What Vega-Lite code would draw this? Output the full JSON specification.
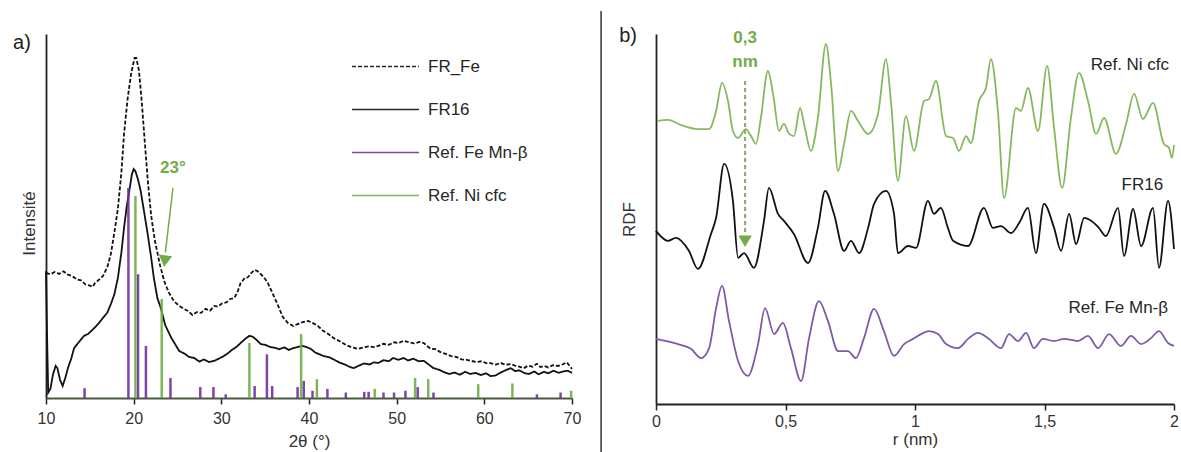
{
"$schema":"https://vega.github.io/schema/vega-lite/v6.json",
"background":"white",
"padding":{"left":13,"top":10,"right":0,"bottom":0},
"config":{"font":"Liberation Sans","view":{"stroke":null},"axis":{"grid":false}},
"spacing":84,
"bounds":"flush",
"datasets":{
"xrd":[
{"s":"FR_Fe","x":10.0,"y":34.4},{"s":"FR_Fe","x":10.5,"y":34.0},{"s":"FR_Fe","x":11.0,"y":34.6},{"s":"FR_Fe","x":11.5,"y":34.1},{"s":"FR_Fe","x":12.0,"y":34.8},{"s":"FR_Fe","x":12.5,"y":33.9},{"s":"FR_Fe","x":13.0,"y":33.5},{"s":"FR_Fe","x":13.5,"y":32.6},{"s":"FR_Fe","x":14.0,"y":32.3},{"s":"FR_Fe","x":14.5,"y":31.2},{"s":"FR_Fe","x":15.0,"y":30.9},{"s":"FR_Fe","x":15.3,"y":30.5},{"s":"FR_Fe","x":15.6,"y":31.6},{"s":"FR_Fe","x":16.0,"y":32.4},{"s":"FR_Fe","x":16.5,"y":33.5},{"s":"FR_Fe","x":17.0,"y":36.0},{"s":"FR_Fe","x":17.4,"y":39.6},{"s":"FR_Fe","x":17.8,"y":45.5},{"s":"FR_Fe","x":18.2,"y":52.0},{"s":"FR_Fe","x":18.6,"y":62.0},{"s":"FR_Fe","x":18.9,"y":72.5},{"s":"FR_Fe","x":19.3,"y":82.0},{"s":"FR_Fe","x":19.7,"y":89.0},{"s":"FR_Fe","x":20.1,"y":93.4},{"s":"FR_Fe","x":20.3,"y":93.4},{"s":"FR_Fe","x":20.6,"y":90.0},{"s":"FR_Fe","x":20.9,"y":82.0},{"s":"FR_Fe","x":21.2,"y":72.5},{"s":"FR_Fe","x":21.6,"y":60.0},{"s":"FR_Fe","x":22.0,"y":50.0},{"s":"FR_Fe","x":22.4,"y":43.5},{"s":"FR_Fe","x":22.7,"y":40.0},{"s":"FR_Fe","x":23.0,"y":36.5},{"s":"FR_Fe","x":23.5,"y":32.0},{"s":"FR_Fe","x":24.0,"y":29.0},{"s":"FR_Fe","x":24.6,"y":26.6},{"s":"FR_Fe","x":25.2,"y":25.3},{"s":"FR_Fe","x":25.8,"y":24.4},{"s":"FR_Fe","x":26.2,"y":23.9},{"s":"FR_Fe","x":26.7,"y":22.8},{"s":"FR_Fe","x":27.2,"y":23.6},{"s":"FR_Fe","x":27.7,"y":23.4},{"s":"FR_Fe","x":28.2,"y":24.5},{"s":"FR_Fe","x":28.7,"y":24.0},{"s":"FR_Fe","x":29.2,"y":25.3},{"s":"FR_Fe","x":29.6,"y":25.1},{"s":"FR_Fe","x":30.1,"y":26.0},{"s":"FR_Fe","x":30.6,"y":26.3},{"s":"FR_Fe","x":31.0,"y":27.2},{"s":"FR_Fe","x":31.5,"y":27.5},{"s":"FR_Fe","x":31.9,"y":29.5},{"s":"FR_Fe","x":32.2,"y":31.6},{"s":"FR_Fe","x":32.7,"y":33.0},{"s":"FR_Fe","x":33.0,"y":33.1},{"s":"FR_Fe","x":33.4,"y":34.3},{"s":"FR_Fe","x":33.8,"y":35.2},{"s":"FR_Fe","x":34.1,"y":34.9},{"s":"FR_Fe","x":34.6,"y":33.8},{"s":"FR_Fe","x":35.0,"y":32.7},{"s":"FR_Fe","x":35.3,"y":31.6},{"s":"FR_Fe","x":35.8,"y":29.0},{"s":"FR_Fe","x":36.4,"y":25.8},{"s":"FR_Fe","x":37.0,"y":22.3},{"s":"FR_Fe","x":37.6,"y":20.6},{"s":"FR_Fe","x":38.2,"y":19.8},{"s":"FR_Fe","x":38.7,"y":20.3},{"s":"FR_Fe","x":39.2,"y":20.8},{"s":"FR_Fe","x":39.9,"y":21.2},{"s":"FR_Fe","x":40.5,"y":20.5},{"s":"FR_Fe","x":41.0,"y":19.8},{"s":"FR_Fe","x":41.6,"y":18.5},{"s":"FR_Fe","x":42.2,"y":17.6},{"s":"FR_Fe","x":42.8,"y":16.5},{"s":"FR_Fe","x":43.5,"y":15.6},{"s":"FR_Fe","x":44.2,"y":14.6},{"s":"FR_Fe","x":44.9,"y":13.9},{"s":"FR_Fe","x":45.6,"y":13.5},{"s":"FR_Fe","x":46.2,"y":13.9},{"s":"FR_Fe","x":46.8,"y":14.2},{"s":"FR_Fe","x":47.4,"y":14.0},{"s":"FR_Fe","x":47.9,"y":14.3},{"s":"FR_Fe","x":48.5,"y":14.9},{"s":"FR_Fe","x":49.1,"y":14.6},{"s":"FR_Fe","x":49.7,"y":15.3},{"s":"FR_Fe","x":50.2,"y":15.1},{"s":"FR_Fe","x":50.8,"y":15.7},{"s":"FR_Fe","x":51.4,"y":15.3},{"s":"FR_Fe","x":52.0,"y":15.0},{"s":"FR_Fe","x":52.6,"y":15.4},{"s":"FR_Fe","x":53.1,"y":15.1},{"s":"FR_Fe","x":53.5,"y":14.2},{"s":"FR_Fe","x":53.9,"y":13.5},{"s":"FR_Fe","x":54.4,"y":13.4},{"s":"FR_Fe","x":55.0,"y":12.6},{"s":"FR_Fe","x":55.6,"y":12.1},{"s":"FR_Fe","x":56.2,"y":11.5},{"s":"FR_Fe","x":56.8,"y":11.3},{"s":"FR_Fe","x":57.4,"y":10.6},{"s":"FR_Fe","x":58.0,"y":10.5},{"s":"FR_Fe","x":58.5,"y":10.2},{"s":"FR_Fe","x":59.1,"y":9.9},{"s":"FR_Fe","x":59.7,"y":10.1},{"s":"FR_Fe","x":60.2,"y":9.6},{"s":"FR_Fe","x":60.7,"y":9.6},{"s":"FR_Fe","x":61.3,"y":9.2},{"s":"FR_Fe","x":61.9,"y":9.6},{"s":"FR_Fe","x":62.4,"y":9.1},{"s":"FR_Fe","x":63.0,"y":9.3},{"s":"FR_Fe","x":63.5,"y":8.9},{"s":"FR_Fe","x":64.0,"y":8.6},{"s":"FR_Fe","x":64.5,"y":8.2},{"s":"FR_Fe","x":65.0,"y":8.9},{"s":"FR_Fe","x":65.5,"y":8.6},{"s":"FR_Fe","x":66.0,"y":9.4},{"s":"FR_Fe","x":66.4,"y":8.5},{"s":"FR_Fe","x":66.8,"y":8.8},{"s":"FR_Fe","x":67.3,"y":8.4},{"s":"FR_Fe","x":67.8,"y":9.0},{"s":"FR_Fe","x":68.4,"y":8.8},{"s":"FR_Fe","x":68.9,"y":9.2},{"s":"FR_Fe","x":69.4,"y":9.8},{"s":"FR_Fe","x":70.0,"y":8.0},
{"s":"FR16","x":10.0,"y":34.9},{"s":"FR16","x":10.1,"y":20.0},{"s":"FR16","x":10.25,"y":1.5},{"s":"FR16","x":10.5,"y":2.5},{"s":"FR16","x":10.8,"y":6.5},{"s":"FR16","x":11.1,"y":8.8},{"s":"FR16","x":11.3,"y":8.2},{"s":"FR16","x":11.6,"y":5.0},{"s":"FR16","x":11.9,"y":3.3},{"s":"FR16","x":12.2,"y":5.5},{"s":"FR16","x":12.5,"y":8.2},{"s":"FR16","x":12.9,"y":11.0},{"s":"FR16","x":13.2,"y":13.7},{"s":"FR16","x":13.7,"y":15.2},{"s":"FR16","x":14.3,"y":17.0},{"s":"FR16","x":14.8,"y":17.6},{"s":"FR16","x":15.5,"y":19.2},{"s":"FR16","x":16.0,"y":20.5},{"s":"FR16","x":16.5,"y":22.0},{"s":"FR16","x":17.0,"y":23.5},{"s":"FR16","x":17.4,"y":25.8},{"s":"FR16","x":17.8,"y":28.5},{"s":"FR16","x":18.2,"y":33.0},{"s":"FR16","x":18.6,"y":40.0},{"s":"FR16","x":18.9,"y":46.7},{"s":"FR16","x":19.2,"y":52.5},{"s":"FR16","x":19.5,"y":56.9},{"s":"FR16","x":19.8,"y":61.5},{"s":"FR16","x":20.0,"y":62.9},{"s":"FR16","x":20.2,"y":62.3},{"s":"FR16","x":20.5,"y":60.0},{"s":"FR16","x":20.8,"y":56.9},{"s":"FR16","x":21.2,"y":51.0},{"s":"FR16","x":21.6,"y":45.0},{"s":"FR16","x":22.0,"y":38.5},{"s":"FR16","x":22.3,"y":33.0},{"s":"FR16","x":22.7,"y":27.5},{"s":"FR16","x":23.1,"y":24.7},{"s":"FR16","x":23.6,"y":20.0},{"s":"FR16","x":24.3,"y":16.5},{"s":"FR16","x":24.8,"y":14.5},{"s":"FR16","x":25.2,"y":12.9},{"s":"FR16","x":25.8,"y":12.2},{"s":"FR16","x":26.3,"y":11.3},{"s":"FR16","x":26.9,"y":11.0},{"s":"FR16","x":27.5,"y":10.0},{"s":"FR16","x":28.0,"y":10.6},{"s":"FR16","x":28.6,"y":9.9},{"s":"FR16","x":29.2,"y":10.2},{"s":"FR16","x":29.7,"y":10.8},{"s":"FR16","x":30.2,"y":11.4},{"s":"FR16","x":30.7,"y":12.2},{"s":"FR16","x":31.2,"y":13.2},{"s":"FR16","x":31.7,"y":14.0},{"s":"FR16","x":32.2,"y":15.1},{"s":"FR16","x":32.7,"y":16.2},{"s":"FR16","x":33.2,"y":17.1},{"s":"FR16","x":33.6,"y":16.8},{"s":"FR16","x":34.0,"y":16.0},{"s":"FR16","x":34.5,"y":14.8},{"s":"FR16","x":35.0,"y":14.6},{"s":"FR16","x":35.6,"y":14.0},{"s":"FR16","x":36.1,"y":13.8},{"s":"FR16","x":36.6,"y":13.4},{"s":"FR16","x":37.2,"y":13.9},{"s":"FR16","x":37.7,"y":13.2},{"s":"FR16","x":38.2,"y":13.7},{"s":"FR16","x":38.7,"y":14.0},{"s":"FR16","x":39.2,"y":14.3},{"s":"FR16","x":39.7,"y":14.0},{"s":"FR16","x":40.2,"y":13.5},{"s":"FR16","x":40.7,"y":12.5},{"s":"FR16","x":41.2,"y":12.0},{"s":"FR16","x":41.7,"y":11.5},{"s":"FR16","x":42.3,"y":11.2},{"s":"FR16","x":42.9,"y":10.5},{"s":"FR16","x":43.5,"y":9.7},{"s":"FR16","x":44.1,"y":9.2},{"s":"FR16","x":44.6,"y":8.6},{"s":"FR16","x":45.1,"y":8.2},{"s":"FR16","x":45.7,"y":8.9},{"s":"FR16","x":46.3,"y":9.5},{"s":"FR16","x":46.9,"y":9.2},{"s":"FR16","x":47.4,"y":9.8},{"s":"FR16","x":47.9,"y":9.6},{"s":"FR16","x":48.5,"y":10.4},{"s":"FR16","x":49.1,"y":10.1},{"s":"FR16","x":49.6,"y":11.0},{"s":"FR16","x":50.2,"y":10.5},{"s":"FR16","x":50.8,"y":11.0},{"s":"FR16","x":51.3,"y":10.3},{"s":"FR16","x":51.9,"y":10.8},{"s":"FR16","x":52.5,"y":10.1},{"s":"FR16","x":53.1,"y":10.2},{"s":"FR16","x":53.6,"y":9.3},{"s":"FR16","x":54.2,"y":8.2},{"s":"FR16","x":54.8,"y":7.8},{"s":"FR16","x":55.4,"y":7.1},{"s":"FR16","x":56.0,"y":6.6},{"s":"FR16","x":56.6,"y":7.0},{"s":"FR16","x":57.2,"y":6.4},{"s":"FR16","x":57.8,"y":7.2},{"s":"FR16","x":58.4,"y":6.6},{"s":"FR16","x":59.0,"y":6.9},{"s":"FR16","x":59.6,"y":6.3},{"s":"FR16","x":60.2,"y":6.8},{"s":"FR16","x":60.7,"y":6.0},{"s":"FR16","x":61.3,"y":6.2},{"s":"FR16","x":61.8,"y":6.9},{"s":"FR16","x":62.4,"y":7.6},{"s":"FR16","x":63.0,"y":8.2},{"s":"FR16","x":63.5,"y":7.4},{"s":"FR16","x":64.0,"y":7.6},{"s":"FR16","x":64.6,"y":6.8},{"s":"FR16","x":65.1,"y":6.6},{"s":"FR16","x":65.7,"y":7.3},{"s":"FR16","x":66.2,"y":6.5},{"s":"FR16","x":66.8,"y":7.2},{"s":"FR16","x":67.3,"y":6.8},{"s":"FR16","x":67.9,"y":7.5},{"s":"FR16","x":68.5,"y":6.9},{"s":"FR16","x":69.0,"y":7.3},{"s":"FR16","x":69.5,"y":7.5},{"s":"FR16","x":70.0,"y":6.9}
],
"sticks":[
{"s":"Ref. Fe Mn-β","x":14.4,"y":2.7},{"s":"Ref. Fe Mn-β","x":19.4,"y":57.7},{"s":"Ref. Fe Mn-β","x":20.5,"y":34.0},{"s":"Ref. Fe Mn-β","x":21.4,"y":14.3},{"s":"Ref. Fe Mn-β","x":24.2,"y":5.5},{"s":"Ref. Fe Mn-β","x":27.6,"y":3.0},{"s":"Ref. Fe Mn-β","x":29.1,"y":3.0},{"s":"Ref. Fe Mn-β","x":30.5,"y":1.0},{"s":"Ref. Fe Mn-β","x":33.8,"y":3.3},{"s":"Ref. Fe Mn-β","x":35.2,"y":12.0},{"s":"Ref. Fe Mn-β","x":35.8,"y":3.3},{"s":"Ref. Fe Mn-β","x":38.7,"y":3.0},{"s":"Ref. Fe Mn-β","x":39.4,"y":4.7},{"s":"Ref. Fe Mn-β","x":40.4,"y":2.0},{"s":"Ref. Fe Mn-β","x":42.1,"y":2.5},{"s":"Ref. Fe Mn-β","x":44.2,"y":1.5},{"s":"Ref. Fe Mn-β","x":46.3,"y":1.7},{"s":"Ref. Fe Mn-β","x":46.8,"y":1.7},{"s":"Ref. Fe Mn-β","x":48.5,"y":1.5},{"s":"Ref. Fe Mn-β","x":49.7,"y":1.5},{"s":"Ref. Fe Mn-β","x":51.0,"y":2.0},{"s":"Ref. Fe Mn-β","x":52.4,"y":3.0},{"s":"Ref. Fe Mn-β","x":54.2,"y":1.5},{"s":"Ref. Fe Mn-β","x":66.0,"y":1.0},{"s":"Ref. Fe Mn-β","x":68.7,"y":1.5},
{"s":"Ref. Ni cfc","x":20.2,"y":55.5},{"s":"Ref. Ni cfc","x":23.2,"y":27.2},{"s":"Ref. Ni cfc","x":33.2,"y":15.1},{"s":"Ref. Ni cfc","x":39.1,"y":17.6},{"s":"Ref. Ni cfc","x":40.9,"y":5.2},{"s":"Ref. Ni cfc","x":47.5,"y":2.5},{"s":"Ref. Ni cfc","x":52.1,"y":5.5},{"s":"Ref. Ni cfc","x":53.6,"y":5.2},{"s":"Ref. Ni cfc","x":59.3,"y":3.8},{"s":"Ref. Ni cfc","x":63.2,"y":4.0},{"s":"Ref. Ni cfc","x":69.9,"y":2.0}
],
"rdf":[
{"s":"Ni","x":0.004,"y":76.5},{"s":"Ni","x":0.046,"y":76.8},{"s":"Ni","x":0.097,"y":75.4},{"s":"Ni","x":0.162,"y":74.3},{"s":"Ni","x":0.205,"y":74.3},{"s":"Ni","x":0.232,"y":79.2},{"s":"Ni","x":0.255,"y":86.8},{"s":"Ni","x":0.278,"y":81.9},{"s":"Ni","x":0.297,"y":73.8},{"s":"Ni","x":0.317,"y":71.9},{"s":"Ni","x":0.347,"y":74.3},{"s":"Ni","x":0.367,"y":72.4},{"s":"Ni","x":0.386,"y":70.3},{"s":"Ni","x":0.405,"y":77.3},{"s":"Ni","x":0.432,"y":90.0},{"s":"Ni","x":0.452,"y":83.8},{"s":"Ni","x":0.475,"y":73.8},{"s":"Ni","x":0.494,"y":75.7},{"s":"Ni","x":0.514,"y":73.0},{"s":"Ni","x":0.533,"y":72.4},{"s":"Ni","x":0.556,"y":80.0},{"s":"Ni","x":0.575,"y":74.6},{"s":"Ni","x":0.598,"y":68.4},{"s":"Ni","x":0.625,"y":77.3},{"s":"Ni","x":0.656,"y":97.3},{"s":"Ni","x":0.676,"y":86.5},{"s":"Ni","x":0.703,"y":63.0},{"s":"Ni","x":0.726,"y":70.3},{"s":"Ni","x":0.753,"y":79.2},{"s":"Ni","x":0.780,"y":76.5},{"s":"Ni","x":0.819,"y":73.0},{"s":"Ni","x":0.857,"y":78.4},{"s":"Ni","x":0.888,"y":93.2},{"s":"Ni","x":0.907,"y":81.9},{"s":"Ni","x":0.934,"y":60.3},{"s":"Ni","x":0.965,"y":77.8},{"s":"Ni","x":0.996,"y":68.4},{"s":"Ni","x":1.035,"y":81.9},{"s":"Ni","x":1.054,"y":82.4},{"s":"Ni","x":1.081,"y":87.3},{"s":"Ni","x":1.120,"y":72.4},{"s":"Ni","x":1.147,"y":71.9},{"s":"Ni","x":1.170,"y":68.4},{"s":"Ni","x":1.197,"y":72.4},{"s":"Ni","x":1.216,"y":70.5},{"s":"Ni","x":1.247,"y":81.9},{"s":"Ni","x":1.274,"y":85.4},{"s":"Ni","x":1.293,"y":93.2},{"s":"Ni","x":1.320,"y":79.2},{"s":"Ni","x":1.344,"y":55.7},{"s":"Ni","x":1.390,"y":80.0},{"s":"Ni","x":1.409,"y":79.2},{"s":"Ni","x":1.436,"y":85.4},{"s":"Ni","x":1.475,"y":73.8},{"s":"Ni","x":1.510,"y":91.4},{"s":"Ni","x":1.537,"y":74.6},{"s":"Ni","x":1.568,"y":58.4},{"s":"Ni","x":1.602,"y":77.3},{"s":"Ni","x":1.633,"y":89.5},{"s":"Ni","x":1.668,"y":81.9},{"s":"Ni","x":1.699,"y":73.0},{"s":"Ni","x":1.730,"y":77.3},{"s":"Ni","x":1.776,"y":67.6},{"s":"Ni","x":1.815,"y":75.7},{"s":"Ni","x":1.846,"y":83.8},{"s":"Ni","x":1.880,"y":77.0},{"s":"Ni","x":1.919,"y":81.4},{"s":"Ni","x":1.961,"y":70.3},{"s":"Ni","x":1.981,"y":69.2},{"s":"Ni","x":1.992,"y":66.5},{"s":"Ni","x":2.0,"y":70.0},
{"s":"FR16","x":0.0,"y":46.8},{"s":"FR16","x":0.046,"y":44.1},{"s":"FR16","x":0.077,"y":44.9},{"s":"FR16","x":0.127,"y":41.4},{"s":"FR16","x":0.162,"y":36.5},{"s":"FR16","x":0.212,"y":45.9},{"s":"FR16","x":0.232,"y":50.3},{"s":"FR16","x":0.263,"y":64.9},{"s":"FR16","x":0.297,"y":54.9},{"s":"FR16","x":0.317,"y":39.5},{"s":"FR16","x":0.340,"y":40.8},{"s":"FR16","x":0.378,"y":36.8},{"s":"FR16","x":0.417,"y":49.5},{"s":"FR16","x":0.436,"y":58.4},{"s":"FR16","x":0.471,"y":51.4},{"s":"FR16","x":0.494,"y":49.5},{"s":"FR16","x":0.533,"y":45.9},{"s":"FR16","x":0.587,"y":38.1},{"s":"FR16","x":0.625,"y":47.6},{"s":"FR16","x":0.653,"y":57.6},{"s":"FR16","x":0.687,"y":51.4},{"s":"FR16","x":0.726,"y":41.4},{"s":"FR16","x":0.753,"y":44.1},{"s":"FR16","x":0.784,"y":40.8},{"s":"FR16","x":0.819,"y":47.6},{"s":"FR16","x":0.842,"y":54.1},{"s":"FR16","x":0.888,"y":57.6},{"s":"FR16","x":0.919,"y":51.4},{"s":"FR16","x":0.934,"y":40.8},{"s":"FR16","x":0.973,"y":42.7},{"s":"FR16","x":1.004,"y":42.2},{"s":"FR16","x":1.050,"y":54.9},{"s":"FR16","x":1.073,"y":51.4},{"s":"FR16","x":1.100,"y":53.0},{"s":"FR16","x":1.127,"y":47.6},{"s":"FR16","x":1.147,"y":44.1},{"s":"FR16","x":1.205,"y":42.7},{"s":"FR16","x":1.266,"y":53.0},{"s":"FR16","x":1.301,"y":47.6},{"s":"FR16","x":1.332,"y":48.1},{"s":"FR16","x":1.371,"y":46.2},{"s":"FR16","x":1.402,"y":48.9},{"s":"FR16","x":1.436,"y":53.0},{"s":"FR16","x":1.467,"y":40.8},{"s":"FR16","x":1.498,"y":54.1},{"s":"FR16","x":1.537,"y":47.6},{"s":"FR16","x":1.564,"y":41.4},{"s":"FR16","x":1.595,"y":51.4},{"s":"FR16","x":1.622,"y":43.2},{"s":"FR16","x":1.653,"y":50.3},{"s":"FR16","x":1.680,"y":49.5},{"s":"FR16","x":1.710,"y":47.6},{"s":"FR16","x":1.737,"y":45.4},{"s":"FR16","x":1.784,"y":53.0},{"s":"FR16","x":1.807,"y":40.0},{"s":"FR16","x":1.842,"y":52.7},{"s":"FR16","x":1.873,"y":42.7},{"s":"FR16","x":1.919,"y":53.0},{"s":"FR16","x":1.942,"y":36.8},{"s":"FR16","x":1.977,"y":54.9},{"s":"FR16","x":2.0,"y":41.9},
{"s":"Fe","x":0.0,"y":17.6},{"s":"Fe","x":0.085,"y":16.2},{"s":"Fe","x":0.135,"y":14.9},{"s":"Fe","x":0.174,"y":12.4},{"s":"Fe","x":0.205,"y":15.1},{"s":"Fe","x":0.232,"y":25.9},{"s":"Fe","x":0.255,"y":31.9},{"s":"Fe","x":0.282,"y":22.4},{"s":"Fe","x":0.317,"y":11.6},{"s":"Fe","x":0.355,"y":7.6},{"s":"Fe","x":0.394,"y":16.2},{"s":"Fe","x":0.421,"y":25.9},{"s":"Fe","x":0.456,"y":18.9},{"s":"Fe","x":0.490,"y":21.9},{"s":"Fe","x":0.521,"y":15.1},{"s":"Fe","x":0.560,"y":6.2},{"s":"Fe","x":0.591,"y":17.8},{"s":"Fe","x":0.629,"y":27.8},{"s":"Fe","x":0.664,"y":22.4},{"s":"Fe","x":0.703,"y":14.3},{"s":"Fe","x":0.741,"y":14.3},{"s":"Fe","x":0.772,"y":12.4},{"s":"Fe","x":0.803,"y":17.8},{"s":"Fe","x":0.842,"y":25.7},{"s":"Fe","x":0.880,"y":19.7},{"s":"Fe","x":0.919,"y":13.0},{"s":"Fe","x":0.958,"y":16.2},{"s":"Fe","x":0.992,"y":17.6},{"s":"Fe","x":1.023,"y":18.9},{"s":"Fe","x":1.054,"y":19.7},{"s":"Fe","x":1.089,"y":18.9},{"s":"Fe","x":1.120,"y":16.2},{"s":"Fe","x":1.166,"y":15.1},{"s":"Fe","x":1.208,"y":17.8},{"s":"Fe","x":1.243,"y":19.2},{"s":"Fe","x":1.282,"y":17.8},{"s":"Fe","x":1.332,"y":15.1},{"s":"Fe","x":1.363,"y":18.9},{"s":"Fe","x":1.398,"y":17.0},{"s":"Fe","x":1.429,"y":19.2},{"s":"Fe","x":1.459,"y":15.1},{"s":"Fe","x":1.494,"y":17.6},{"s":"Fe","x":1.537,"y":17.0},{"s":"Fe","x":1.575,"y":17.6},{"s":"Fe","x":1.629,"y":17.0},{"s":"Fe","x":1.668,"y":18.4},{"s":"Fe","x":1.707,"y":15.1},{"s":"Fe","x":1.749,"y":18.9},{"s":"Fe","x":1.795,"y":15.7},{"s":"Fe","x":1.834,"y":18.4},{"s":"Fe","x":1.873,"y":16.2},{"s":"Fe","x":1.911,"y":17.8},{"s":"Fe","x":1.942,"y":19.7},{"s":"Fe","x":1.977,"y":16.5},{"s":"Fe","x":2.0,"y":15.7}
]
},
"hconcat":[
{
"width":526,"height":364,
"encoding":{
"x":{"field":"x","type":"quantitative","scale":{"domain":[10,70],"nice":false,"zero":false},"axis":{"values":[10,20,30,40,50,60,70],"labelFlush":false,"title":"2θ (°)","labelFontSize":16,"labelColor":"#333","labelPadding":6,"tickSize":6,"tickWidth":1.5,"tickColor":"#222","domainColor":"#4a5a40","domainWidth":1.8,"titleFontSize":17,"titleFontWeight":"normal","titleColor":"#333","titleY":48,"titleBaseline":"alphabetic"}},
"y":{"field":"y","type":"quantitative","scale":{"domain":[0,100],"nice":false,"zero":false},"axis":{"labels":false,"ticks":false,"title":"Intensité","domainColor":"#222","domainWidth":1.8,"titleFontSize":17,"titleFontWeight":"normal","titleColor":"#333","titleX":-12,"titleY":189,"titleBaseline":"alphabetic"}}
},
"layer":[
{"data":{"name":"xrd"},"mark":{"type":"line","strokeWidth":1.8},
 "encoding":{
 "color":{"field":"s","type":"nominal","scale":{"domain":["FR_Fe","FR16","Ref. Fe Mn-β","Ref. Ni cfc"],"range":["#111111","#111111","#7030a0","#70ad47"]},"legend":{"orient":"none","legendX":305,"legendY":-2,"title":null,"symbolType":"stroke","symbolSize":4489,"symbolStrokeWidth":1.5,"labelFontSize":17,"labelColor":"#262626","labelOffset":8,"rowPadding":0}},
 "strokeDash":{"field":"s","type":"nominal","scale":{"domain":["FR_Fe","FR16","Ref. Fe Mn-β","Ref. Ni cfc"],"range":[[4,2],[1,0],[1,0],[1,0]]},"legend":{"orient":"none","legendX":305,"legendY":-2,"title":null,"symbolType":"stroke","symbolSize":4489,"symbolStrokeWidth":1.5,"labelFontSize":17,"labelColor":"#262626","labelOffset":8,"rowPadding":0}}
 }},
{"data":{"name":"sticks"},"mark":{"type":"rule","strokeWidth":2.5,"opacity":0.9},
 "encoding":{"y2":{"datum":0},
 "color":{"field":"s","type":"nominal","scale":{"domain":["FR_Fe","FR16","Ref. Fe Mn-β","Ref. Ni cfc"],"range":["#111111","#111111","#7030a0","#70ad47"]},"legend":{"orient":"none","legendX":305,"legendY":-2,"title":null,"symbolType":"stroke","symbolSize":4489,"symbolStrokeWidth":1.5,"labelFontSize":17,"labelColor":"#262626","labelOffset":8,"rowPadding":0}}}},
{"data":{"values":[{"x":7.26,"y":97.5,"t":"a)"}]},"mark":{"type":"text","fontSize":20,"color":"#222"},"encoding":{"text":{"field":"t"}}},
{"data":{"values":[{"x":24.48,"y":63.2,"t":"23°"}]},"mark":{"type":"text","fontSize":17,"fontWeight":"bold","color":"#70ad47"},"encoding":{"text":{"field":"t"}}},
{"data":{"values":[{"x":24.48,"y":57.7,"x2":23.62,"y2":40}]},"mark":{"type":"rule","color":"#70ad47","strokeWidth":1.5},"encoding":{"x2":{"field":"x2"},"y2":{"field":"y2"}}},
{"data":{"values":[{"x":23.55,"y":37.6}]},"mark":{"type":"point","shape":"triangle-down","size":180,"filled":true,"color":"#70ad47","angle":7,"opacity":1},"encoding":{}}
]
},
{
"width":518,"height":370,
"encoding":{
"x":{"field":"x","type":"quantitative","scale":{"domain":[0,2],"nice":false,"zero":false},"axis":{"values":[0,0.5,1,1.5,2],"labelFlush":false,"labelExpr":"replace(toString(datum.value),'.',',')","title":"r (nm)","labelFontSize":16,"labelColor":"#333","labelPadding":3,"tickSize":6,"tickWidth":1.5,"tickColor":"#222","domainColor":"#222","domainWidth":1.8,"titleFontSize":17,"titleFontWeight":"normal","titleColor":"#333","titleY":40,"titleBaseline":"alphabetic"}},
"y":{"field":"y","type":"quantitative","scale":{"domain":[0,100],"nice":false,"zero":false},"axis":{"labels":false,"ticks":false,"title":"RDF","domainColor":"#222","domainWidth":1.8,"titleFontSize":17,"titleFontWeight":"normal","titleColor":"#333","titleX":-22,"titleBaseline":"alphabetic"}}
},
"layer":[
{"data":{"values":[{"x":-0.212,"y":106.2,"y2":-13.2}]},"mark":{"type":"rule","color":"#333","strokeWidth":1.5},"encoding":{"y2":{"field":"y2"}}},
{"data":{"name":"rdf"},"transform":[{"filter":"datum.s == 'Ni'"}],"mark":{"type":"line","color":"#86b95f","strokeWidth":1.8,"interpolate":"monotone"},"encoding":{}},
{"data":{"name":"rdf"},"transform":[{"filter":"datum.s == 'FR16'"}],"mark":{"type":"line","color":"#111111","strokeWidth":1.8,"interpolate":"monotone"},"encoding":{}},
{"data":{"name":"rdf"},"transform":[{"filter":"datum.s == 'Fe'"}],"mark":{"type":"line","color":"#7d5ba6","strokeWidth":1.8,"interpolate":"monotone"},"encoding":{}},
{"data":{"values":[{"x":1.981,"y":91.6,"t":"Ref. Ni cfc"},{"x":1.958,"y":59.2,"t":"FR16"},{"x":1.977,"y":25.9,"t":"Ref. Fe Mn-β"}]},"mark":{"type":"text","fontSize":17,"align":"right","color":"#262626"},"encoding":{"text":{"field":"t"}}},
{"data":{"values":[{"x":-0.108,"y":99.5,"t":"b)"}]},"mark":{"type":"text","fontSize":20,"color":"#222"},"encoding":{"text":{"field":"t"}}},
{"data":{"values":[{"x":0.344,"y":98.9,"t":"0,3"},{"x":0.344,"y":92.4,"t":"nm"}]},"mark":{"type":"text","fontSize":17,"fontWeight":"bold","color":"#70ad47"},"encoding":{"text":{"field":"t"}}},
{"data":{"values":[{"x":0.344,"y":87.3,"y2":46}]},"mark":{"type":"rule","color":"#8aa86a","strokeWidth":2,"strokeDash":[4,3]},"encoding":{"y2":{"field":"y2"}}},
{"data":{"values":[{"x":0.344,"y":44.0}]},"mark":{"type":"point","shape":"triangle-down","size":180,"filled":true,"color":"#70ad47","opacity":1},"encoding":{}}
]
}
]
}
